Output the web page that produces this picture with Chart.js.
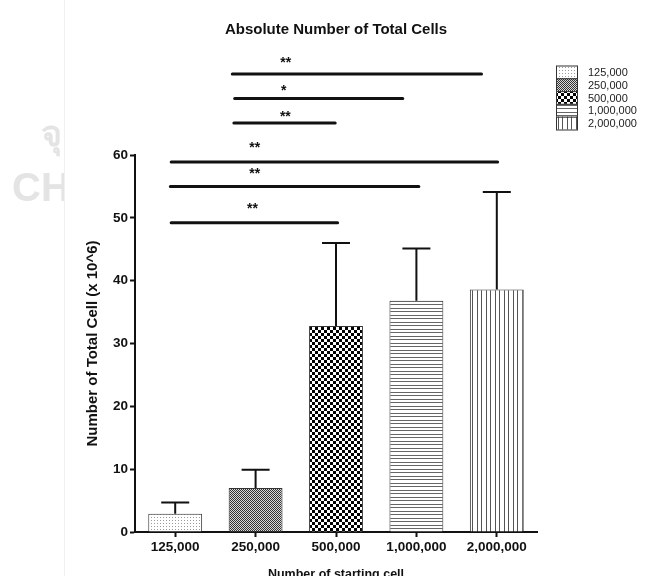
<!DOCTYPE html>
<html>
<head>
<meta charset="utf-8">
<script src="https://cdn.jsdelivr.net/npm/chart.js@4.4.1/dist/chart.umd.min.js"></script>
<style>
  html, body { margin: 0; padding: 0; background: #fff; }
  #wrap { width: 648px; height: 576px; }
</style>
</head>
<body>
<div id="wrap"><canvas id="c"></canvas></div>
<script>
var categories = ['125,000', '250,000', '500,000', '1,000,000', '2,000,000'];
var means = [2.9, 7.0, 32.8, 36.8, 38.6];
var sds = [1.8, 2.9, 13.2, 8.3, 15.5];
var yTicks = [0, 10, 20, 30, 40, 50, 60];

// significance bars: x in category units, y in data units
var sigFrom = [0.71, 0.74, 0.73, -0.05, -0.06, -0.05];
var sigTo = [3.81, 2.83, 1.99, 4.01, 3.03, 2.02];
var sigLevel = [72.9, 69.0, 65.1, 58.9, 55.0, 49.2];
var sigText = ['**', '*', '**', '**', '**', '**'];
var sigTextX = [1.375, 1.35, 1.37, 0.99, 0.99, 0.96];
var sigTextY = [75.1, 70.7, 66.5, 61.6, 57.5, 51.9];

var FONT = "'Liberation Sans', Arial, sans-serif";
var INK = '#111';

var canvas = document.getElementById('c');
var ctx = canvas.getContext('2d');

function makePattern(size, bg, draw) {
  var c = document.createElement('canvas');
  c.width = size; c.height = size;
  var g = c.getContext('2d');
  g.fillStyle = bg;
  g.fillRect(0, 0, size, size);
  draw(g);
  return ctx.createPattern(c, 'repeat');
}

var patterns = [
  makePattern(3, '#fff', function (g) { g.fillStyle = '#9a9a9a'; g.fillRect(1, 1, 1, 1); }),
  makePattern(2, '#d8d8d8', function (g) { g.fillStyle = '#333'; g.fillRect(0, 0, 1, 1); g.fillRect(1, 1, 1, 1); }),
  makePattern(6, '#fff', function (g) { g.fillStyle = '#000'; g.fillRect(0, 0, 3, 3); g.fillRect(3, 3, 3, 3); }),
  makePattern(7, '#fff', function (g) { g.fillStyle = '#666'; g.fillRect(0, 0, 7, 1); g.fillRect(0, 3, 7, 1); }),
  makePattern(9, '#fff', function (g) { g.fillStyle = '#555'; g.fillRect(0, 0, 1, 9); g.fillRect(4, 0, 1, 9); })
];

var background = {
  id: 'background',
  beforeDraw: function (chart) {
    var c = chart.ctx;
    c.save();
    c.fillStyle = '#fff';
    c.fillRect(0, 0, chart.width, chart.height);
    // faint watermark, cut off at the left edge
    c.beginPath();
    c.rect(0, 0, 64, chart.height);
    c.clip();
    c.fillStyle = '#e4e4e4';
    c.font = "bold 40px 'Liberation Sans Narrow', 'Liberation Sans', sans-serif";
    c.textBaseline = 'alphabetic';
    c.fillText('CHU', 12, 201);
    c.font = "bold 36px 'Noto Sans', 'DejaVu Sans', sans-serif";
    c.fillText('\u0E08\u0E38', 41, 146);
    c.restore();
    c.save();
    c.strokeStyle = '#f0f0f0';
    c.lineWidth = 1;
    c.beginPath();
    c.moveTo(64.5, 0);
    c.lineTo(64.5, chart.height);
    c.stroke();
    c.restore();
  }
};

var errorBars = {
  id: 'errorBars',
  afterDatasetsDraw: function (chart) {
    var x = chart.scales.x, y = chart.scales.y, c = chart.ctx;
    c.save();
    c.strokeStyle = INK;
    c.lineWidth = 2;
    means.forEach(function (m, i) {
      var px = x.getPixelForValue(i);
      var y0 = y.getPixelForValue(m);
      var y1 = y.getPixelForValue(m + sds[i]);
      c.beginPath();
      c.moveTo(px, y0);
      c.lineTo(px, y1);
      c.moveTo(px - 14, y1);
      c.lineTo(px + 14, y1);
      c.stroke();
    });
    c.restore();
  }
};

var sigBars = {
  id: 'sigBars',
  afterDraw: function (chart) {
    var x = chart.scales.x, y = chart.scales.y, c = chart.ctx;
    c.save();
    c.strokeStyle = INK;
    c.fillStyle = INK;
    c.lineWidth = 3;
    c.lineCap = 'round';
    c.font = 'bold 14px ' + FONT;
    c.textAlign = 'center';
    c.textBaseline = 'middle';
    sigLevel.forEach(function (lv, i) {
      var py = y.getPixelForValue(lv);
      c.beginPath();
      c.moveTo(x.getPixelForValue(sigFrom[i]), py);
      c.lineTo(x.getPixelForValue(sigTo[i]), py);
      c.stroke();
      c.fillText(sigText[i], x.getPixelForValue(sigTextX[i]), y.getPixelForValue(sigTextY[i]) + 3);
    });
    c.restore();
  }
};

var patternLegend = {
  id: 'patternLegend',
  afterDraw: function (chart) {
    var c = chart.ctx;
    var bx = 556, by = 65.5, bw = 21, bh = 12.8;
    c.save();
    c.font = '11px ' + FONT;
    c.textBaseline = 'middle';
    c.textAlign = 'left';
    categories.forEach(function (label, i) {
      var top = by + i * bh;
      c.fillStyle = patterns[i];
      c.fillRect(bx, top, bw, bh);
      c.strokeStyle = '#333';
      c.lineWidth = 1;
      c.strokeRect(bx + 0.5, top + 0.5, bw, bh);
      c.fillStyle = '#222';
      c.fillText(label, 588, top + bh / 2 + 1);
    });
    c.restore();
  }
};

var axisGrid = {
  display: true,
  drawOnChartArea: false,
  drawTicks: true,
  offset: false,
  tickLength: 5,
  tickWidth: 2,
  tickColor: INK
};

new Chart(canvas, {
  type: 'bar',
  data: {
    labels: categories,
    datasets: [{
      data: means,
      backgroundColor: patterns,
      borderColor: '#333',
      borderWidth: 1,
      barPercentage: 0.67,
      categoryPercentage: 1
    }]
  },
  options: {
    responsive: true,
    maintainAspectRatio: false,
    animation: false,
    devicePixelRatio: 1,
    layout: { padding: { left: 84, right: 111, top: 0, bottom: 0 } },
    plugins: {
      legend: { display: false },
      tooltip: { enabled: false },
      title: {
        display: true,
        text: 'Absolute Number of Total Cells',
        fullSize: false,
        color: INK,
        font: { family: FONT, size: 15, weight: 'bold' },
        padding: { top: 21, bottom: 116 }
      }
    },
    scales: {
      x: {
        grid: axisGrid,
        border: { display: true, color: INK, width: 2 },
        ticks: { color: INK, font: { family: FONT, size: 13.5, weight: 'bold' }, padding: 2, maxRotation: 0, autoSkip: false },
        title: {
          display: true,
          text: 'Number of starting cell',
          color: INK,
          font: { family: FONT, size: 12.5, weight: 'bold' },
          padding: { top: 0, bottom: -6 }
        },
        afterFit: function (s) { s.height = 44; }
      },
      y: {
        min: 0,
        max: 60,
        grid: axisGrid,
        border: { display: true, color: INK, width: 2 },
        ticks: { color: INK, font: { family: FONT, size: 13.5, weight: 'bold' }, padding: 2 },
        afterBuildTicks: function (s) { s.ticks = yTicks.map(function (v) { return { value: v }; }); },
        title: {
          display: true,
          text: 'Number of Total Cell (x 10^6)',
          color: INK,
          font: { family: FONT, size: 15, weight: 'bold' },
          padding: { top: 0, bottom: 0 }
        },
        afterFit: function (s) { s.width = 51; }
      }
    }
  },
  plugins: [background, errorBars, sigBars, patternLegend]
});
</script>
</body>
</html>
